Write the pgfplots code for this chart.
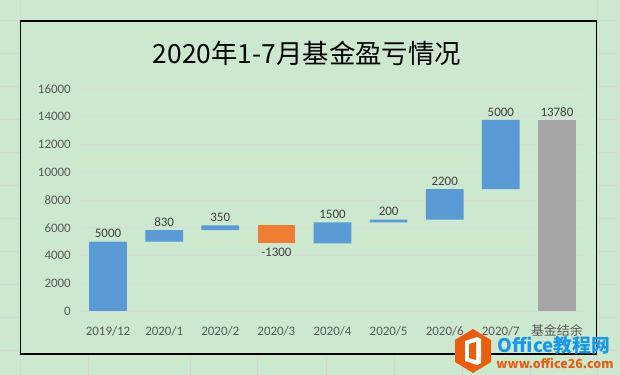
\documentclass[border=0pt]{standalone}
\usepackage{graphicx}
\usepackage{pgfplots}
\pgfplotsset{compat=1.18}
\usepackage{fontspec}
\setmainfont{Carlito}
\newfontfamily\cjk{Noto Sans CJK SC}
\definecolor{bg}{RGB}{204,232,207}
\definecolor{cellc}{RGB}{214,214,214}
\definecolor{gridc}{RGB}{217,217,217}
\definecolor{barblue}{RGB}{91,155,213}
\definecolor{barorange}{RGB}{237,125,49}
\definecolor{bargray}{RGB}{165,165,165}
\definecolor{tickc}{RGB}{89,89,89}
\definecolor{labc}{RGB}{64,64,64}
\definecolor{wmblue}{RGB}{24,152,232}
\definecolor{wmorange}{RGB}{234,92,14}
\begin{document}
\begin{tikzpicture}
\begin{scope}[x=1bp,y=1bp]
\fill[bg] (0,0) rectangle (620,375);
\foreach \yy in {20,53,86,119,152,185,218,251,284,317,350}
  \draw[cellc, line width=0.8bp] (0,375-\yy) -- (620,375-\yy);
\foreach \xx in {20,597}
  \draw[cellc, line width=0.8bp] (\xx,0) -- (\xx,375);
\foreach \xx in {88,190,257,326,394,462,530}
  \draw[cellc, line width=0.8bp] (\xx,0) -- (\xx,21);
\filldraw[fill=bg, draw=black, line width=1.1bp] (20.5,21) rectangle (596.5,354);
\node[anchor=base, inner sep=0pt, font=\cjk\fontsize{26.5}{30}\selectfont] at (307,312) {2020年1-7月基金盈亏情况};
\end{scope}

\begin{axis}[
  at={(80bp,64bp)}, anchor=south west,
  scale only axis, width=505bp, height=222bp,
  xmin=-0.5, xmax=8.5, ymin=0, ymax=16000,
  ybar stacked, bar width=37.7bp,
  xtick={0,1,...,8},
  xticklabels={2019/12,2020/1,2020/2,2020/3,2020/4,2020/5,2020/6,2020/7,{\cjk 基金结余}},
  ytick={0,2000,...,16000},
  ymajorgrids, major grid style={draw=gridc, line width=0.8bp},
  axis line style={draw=none},
  major tick length=0pt,
  scaled y ticks=false,
  /pgf/number format/.cd, 1000 sep={}, assume math mode=true, /pgfplots/.cd,
  tick label style={font=\fontsize{13}{15}\selectfont, text=tickc, inner sep=0pt},
  yticklabel style={anchor=east, xshift=-9bp},
  xticklabel style={anchor=base, yshift=-24bp},
]
\addplot[draw=none, fill=none] coordinates {(0,0) (1,5000) (2,5830) (3,4880) (4,4880) (5,6380) (6,6580) (7,8780) (8,0)};
\addplot[draw=none, fill=barblue] coordinates {(0,5000) (1,830) (2,350) (3,0) (4,1500) (5,200) (6,2200) (7,5000) (8,0)};
\addplot[draw=none, fill=barorange] coordinates {(0,0) (1,0) (2,0) (3,1300) (4,0) (5,0) (6,0) (7,0) (8,0)};
\addplot[draw=none, fill=bargray] coordinates {(0,0) (1,0) (2,0) (3,0) (4,0) (5,0) (6,0) (7,0) (8,13780)};
\end{axis}

\begin{axis}[
  at={(80bp,64bp)}, anchor=south west,
  scale only axis, width=505bp, height=222bp,
  xmin=-0.5, xmax=8.5, ymin=0, ymax=16000,
  hide axis, clip=false,
]
\addplot[draw=none, nodes near coords={\pgfplotspointmeta}, point meta=explicit symbolic,
  nodes near coords style={anchor=south, inner sep=0pt, yshift=3.5bp, font=\fontsize{13}{15}\selectfont, text=labc}]
  table[meta=lab] {
x y lab
0 5000 5000
1 5830 830
2 6180 350
4 6380 1500
5 6580 200
6 8780 2200
7 13780 5000
8 13780 13780
};
\addplot[draw=none, nodes near coords={\pgfplotspointmeta}, point meta=explicit symbolic,
  nodes near coords style={anchor=north, inner sep=0pt, yshift=-4.5bp, font=\fontsize{13}{15}\selectfont, text=labc}]
  table[meta=lab] {
x y lab
3 4880 -1300
};
\end{axis}

\begin{scope}[x=1bp,y=1bp]
\fill[wmorange] (473,46) -- (491,35) -- (491,13) -- (473,2) -- (455,13) -- (455,35) -- cycle;
\fill[white] (465,14) -- (477,10) -- (481,12) -- (481,36) -- (477,38) -- (465,34) -- cycle;
\fill[wmorange] (469,17) -- (476,15) -- (476,33) -- (469,31) -- cycle;
\node[inner sep=0pt, text=wmblue] at (554,30) {\resizebox{112bp}{!}{\cjk\bfseries Office教程网}};
\node[inner sep=0pt, text=wmorange] at (555,12) {\resizebox{117bp}{!}{\cjk\bfseries www.office26.com}};
\end{scope}
\pgfresetboundingbox
\path (0,0) rectangle (620bp,375bp);
\end{tikzpicture}
\end{document}
